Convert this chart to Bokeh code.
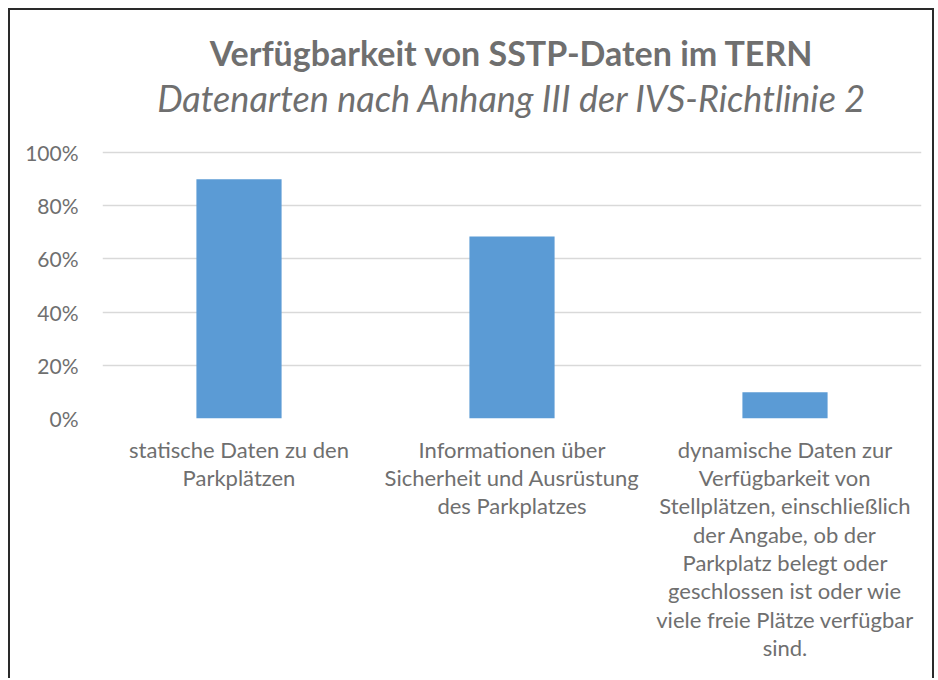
from bokeh.plotting import figure
from bokeh.models import Label, NumeralTickFormatter, FactorRange, Range1d, ColumnDataSource, FixedTicker
from bokeh.embed import file_html
from bokeh.resources import INLINE

# data
categories = [
    "statische Daten zu den\nParkplätzen",
    "Informationen über\nSicherheit und Ausrüstung\ndes Parkplatzes",
    "dynamische Daten zur\nVerfügbarkeit von\nStellplätzen, einschließlich\nder Angabe, ob der\nParkplatz belegt oder\ngeschlossen ist oder wie\nviele freie Plätze verfügbar\nsind.",
]
values = [0.90, 0.684, 0.099]
y_ticks = [0, 0.2, 0.4, 0.6, 0.8, 1.0]
title_text = "Verfügbarkeit von SSTP-Daten im TERN"
subtitle_text = "Datenarten nach Anhang III der IVS-Richtlinie 2"

FONT = "Lato"
TEXT_COLOR = "#6f6f6f"

src = ColumnDataSource(dict(cat=categories, val=values))

# frame extends up to the top of the canvas so the title texts sit inside it;
# only the 0..100% ticks/gridlines are shown
p = figure(
    x_range=FactorRange(*categories, range_padding=0),
    y_range=Range1d(0, 1.534),
    width=926, height=670,
    output_backend="svg", toolbar_location=None,
    min_border_left=92, min_border_right=15,
    min_border_top=0, min_border_bottom=262,
)
p.styles = {"margin-left": "8px", "margin-top": "8px",
            "border-top": "2px solid #2a2a2a", "border-left": "2px solid #2a2a2a",
            "border-right": "2px solid #2a2a2a"}

p.vbar(x="cat", top="val", width=0.312, source=src, color="#5B9BD5", line_color=None)

p.outline_line_color = None
p.xgrid.grid_line_color = None
p.ygrid.grid_line_color = "#D9D9D9"
p.ygrid.grid_line_width = 1.5

p.yaxis.ticker = FixedTicker(ticks=y_ticks)
p.yaxis.formatter = NumeralTickFormatter(format="0%")
for ax in (p.xaxis, p.yaxis):
    ax.axis_line_color = None
    ax.major_tick_line_color = None
    ax.minor_tick_line_color = None
    ax.major_label_text_font = FONT
    ax.major_label_text_color = TEXT_COLOR

p.yaxis.major_label_text_font_size = "21px"
p.yaxis.major_label_standoff = 18
p.xaxis.major_label_text_font_size = "22px"
p.xaxis.major_label_standoff = 11
p.xaxis.major_label_text_line_height = 1.05

main = Label(x=1.5, y=1, y_offset=100, text=title_text, text_align="center",
             text_baseline="middle", text_font=FONT, text_font_size="34px",
             text_font_style="bold", text_color=TEXT_COLOR)
sub = Label(x=1.5, y=1, y_offset=55, text=subtitle_text, text_align="center",
            text_baseline="middle", text_font=FONT, text_font_size="36px",
            text_font_style="italic", text_color=TEXT_COLOR)
p.add_layout(main)
p.add_layout(sub)

open("out.html", "w").write(file_html(p, INLINE))
